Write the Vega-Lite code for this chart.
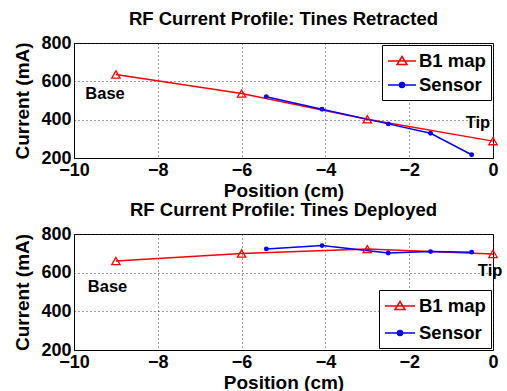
{
  "$schema": "https://vega.github.io/schema/vega-lite/v6.json",
  "padding": {"left": 13, "top": 9, "right": 5, "bottom": 0},
  "spacing": -1,
  "datasets": {
    "retracted": [
      {"pos": -9, "current": 636, "series": "B1 map"},
      {"pos": -6, "current": 536, "series": "B1 map"},
      {"pos": -3, "current": 402, "series": "B1 map"},
      {"pos": 0, "current": 288, "series": "B1 map"},
      {"pos": -5.41, "current": 520, "series": "Sensor"},
      {"pos": -4.08, "current": 454, "series": "Sensor"},
      {"pos": -2.5, "current": 378, "series": "Sensor"},
      {"pos": -1.49, "current": 329, "series": "Sensor"},
      {"pos": -0.51, "current": 217, "series": "Sensor"}
    ],
    "deployed": [
      {"pos": -9, "current": 660, "series": "B1 map"},
      {"pos": -6, "current": 699, "series": "B1 map"},
      {"pos": -3, "current": 722, "series": "B1 map"},
      {"pos": 0, "current": 697, "series": "B1 map"},
      {"pos": -5.41, "current": 723, "series": "Sensor"},
      {"pos": -4.08, "current": 740, "series": "Sensor"},
      {"pos": -2.5, "current": 702, "series": "Sensor"},
      {"pos": -1.49, "current": 709, "series": "Sensor"},
      {"pos": -0.51, "current": 706, "series": "Sensor"}
    ],
    "notesRetracted": [
      {"pos": -9.26, "current": 534, "label": "Base"},
      {"pos": -0.36, "current": 383, "label": "Tip"}
    ],
    "notesDeployed": [
      {"pos": -9.2, "current": 526, "label": "Base"},
      {"pos": -0.07, "current": 609, "label": "Tip"}
    ]
  },
  "vconcat": [
    {
      "title": "RF Current Profile: Tines Retracted",
      "width": 419,
      "height": 115,
      "encoding": {
        "x": {"field": "pos", "type": "quantitative", "scale": {"domain": [-10, 0], "nice": false},
              "axis": {"title": "Position (cm)", "values": [-10, -8, -6, -4, -2, 0]}},
        "y": {"field": "current", "type": "quantitative", "scale": {"domain": [200, 800], "nice": false},
              "axis": {"title": "Current (mA)", "values": [200, 400, 600, 800]}}
      },
      "layer": [
        {
          "data": {"name": "retracted"},
          "mark": {"type": "line", "strokeWidth": 1.5},
          "encoding": {
            "color": {"field": "series", "type": "nominal",
              "scale": {"domain": ["B1 map", "Sensor"], "range": ["#ff0000", "#0000ff"]},
              "legend": {"orient": "top-right", "offset": 2, "title": null, "strokeColor": "black", "fillColor": "white",
                "padding": 5, "rowPadding": 3, "labelFontSize": 18.5, "labelFontWeight": "bold", "labelColor": "black",
                "symbolSize": 400, "symbolStrokeWidth": 1.5, "labelOffset": 10,
                "encode": {"symbols": {"update": {
                  "shape": {"signal": "datum.value === 'B1 map' ? 'M-1,0H1.8M0.4,-0.45L0.9,0.35L-0.1,0.35Z' : 'M-1,0H1.8M0.65,0A0.25,0.25,0,1,1,0.15,0A0.25,0.25,0,1,1,0.65,0'"},
                  "fill": {"signal": "datum.value === 'B1 map' ? 'transparent' : '#0000ff'"}
                }}}
              }}
          }
        },
        {
          "data": {"name": "retracted"},
          "transform": [{"filter": "datum.series === 'B1 map'"}],
          "mark": {"type": "point", "shape": "triangle-up", "filled": false, "stroke": "#ff0000", "strokeWidth": 1.3, "size": 70, "opacity": 1}
        },
        {
          "data": {"name": "retracted"},
          "transform": [{"filter": "datum.series === 'Sensor'"}],
          "mark": {"type": "circle", "color": "#0000ff", "size": 24, "opacity": 1}
        },
        {
          "data": {"name": "notesRetracted"},
          "mark": {"type": "text", "fontSize": 16.5, "fontWeight": "bold", "color": "black"},
          "encoding": {"text": {"field": "label"}}
        }
      ]
    },
    {
      "title": "RF Current Profile: Tines Deployed",
      "width": 419,
      "height": 116,
      "encoding": {
        "x": {"field": "pos", "type": "quantitative", "scale": {"domain": [-10, 0], "nice": false},
              "axis": {"title": "Position (cm)", "values": [-10, -8, -6, -4, -2, 0]}},
        "y": {"field": "current", "type": "quantitative", "scale": {"domain": [200, 800], "nice": false},
              "axis": {"title": "Current (mA)", "values": [200, 400, 600, 800]}}
      },
      "layer": [
        {
          "data": {"name": "deployed"},
          "mark": {"type": "line", "strokeWidth": 1.5},
          "encoding": {
            "color": {"field": "series", "type": "nominal",
              "scale": {"domain": ["B1 map", "Sensor"], "range": ["#ff0000", "#0000ff"]},
              "legend": {"orient": "bottom-right", "offset": 2, "title": null, "strokeColor": "black", "fillColor": "white",
                "padding": 5, "rowPadding": 6, "labelFontSize": 18.5, "labelFontWeight": "bold", "labelColor": "black",
                "symbolSize": 400, "symbolStrokeWidth": 1.5, "labelOffset": 13,
                "labelExpr": "datum.label + '    '",
                "encode": {"symbols": {"update": {
                  "shape": {"signal": "datum.value === 'B1 map' ? 'M-1,0H2M0.5,-0.45L1,0.35L0,0.35Z' : 'M-1,0H2M0.75,0A0.25,0.25,0,1,1,0.25,0A0.25,0.25,0,1,1,0.75,0'"},
                  "fill": {"signal": "datum.value === 'B1 map' ? 'transparent' : '#0000ff'"}
                }}}
              }}
          }
        },
        {
          "data": {"name": "deployed"},
          "transform": [{"filter": "datum.series === 'B1 map'"}],
          "mark": {"type": "point", "shape": "triangle-up", "filled": false, "stroke": "#ff0000", "strokeWidth": 1.3, "size": 70, "opacity": 1}
        },
        {
          "data": {"name": "deployed"},
          "transform": [{"filter": "datum.series === 'Sensor'"}],
          "mark": {"type": "circle", "color": "#0000ff", "size": 24, "opacity": 1}
        },
        {
          "data": {"name": "notesDeployed"},
          "mark": {"type": "text", "fontSize": 16.5, "fontWeight": "bold", "color": "black"},
          "encoding": {"text": {"field": "label"}}
        }
      ]
    }
  ],
  "resolve": {"legend": {"color": "independent"}},
  "config": {
    "font": "Liberation Sans",
    "view": {"stroke": "black", "strokeWidth": 1},
    "axis": {
      "labelFont": "Liberation Sans", "labelFontSize": 18, "labelFontWeight": "bold", "labelColor": "black",
      "titleFont": "Liberation Sans", "titleFontSize": 19, "titleFontWeight": "bold", "titleColor": "black",
      "grid": true, "gridColor": "#222222", "gridDash": [1, 3], "gridWidth": 1, "gridOpacity": 0.9,
      "domainColor": "black", "labelFlush": false, "labelOverlap": false, "tickSize": 0
    },
    "axisX": {"titlePadding": 2, "labelPadding": 3},
    "axisY": {"titlePadding": 8, "labelPadding": 3},
    "title": {"font": "Liberation Sans", "fontSize": 18.5, "fontWeight": "bold", "color": "black", "offset": 6}
  }
}
